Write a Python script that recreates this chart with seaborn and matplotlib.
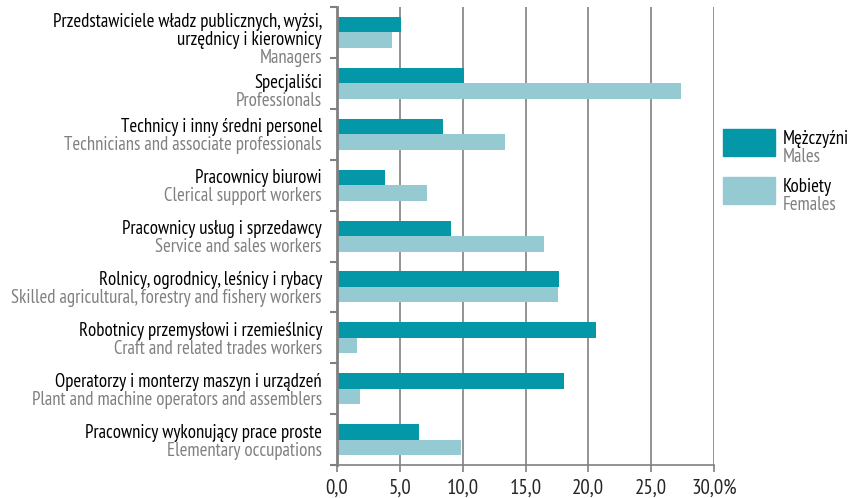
# Employment structure by occupation and sex

import pandas as pd
import seaborn as sns
import matplotlib.pyplot as plt
from matplotlib.patches import Rectangle
from matplotlib.ticker import FixedLocator, FuncFormatter
import matplotlib.font_manager as fm

names = {f.name for f in fm.fontManager.ttflist}
font = 'PT Sans Narrow' if 'PT Sans Narrow' in names else 'DejaVu Sans'

# Data
labels_pl = ['Przedstawiciele władz publicznych, wyżsi,\nurzędnicy i kierownicy',
             'Specjaliści',
             'Technicy i inny średni personel',
             'Pracownicy biurowi',
             'Pracownicy usług i sprzedawcy',
             'Rolnicy, ogrodnicy, leśnicy i rybacy',
             'Robotnicy przemysłowi i rzemieślnicy',
             'Operatorzy i monterzy maszyn i urządzeń',
             'Pracownicy wykonujący prace proste']
labels_en = ['Managers',
             'Professionals',
             'Technicians and associate professionals',
             'Clerical support workers',
             'Service and sales workers',
             'Skilled agricultural, forestry and fishery workers',
             'Craft and related trades workers',
             'Plant and machine operators and assemblers',
             'Elementary occupations']
males = [5.1, 10.1, 8.4, 3.8, 9.1, 17.7, 20.6, 18.1, 6.5]
females = [4.4, 27.4, 13.4, 7.2, 16.5, 17.6, 1.6, 1.8, 9.9]
x_ticks = [0, 5, 10, 15, 20, 25, 30]

c_m = '#0497a7'
c_f = '#96cad3'
gray = '#808080'

df = pd.DataFrame({
    'cat': labels_en * 2,
    'value': males + females,
    'sex': ['Males'] * 9 + ['Females'] * 9,
})

sns.set_style('white')
plt.rcParams['font.family'] = [font, 'DejaVu Sans']

fig = plt.figure(figsize=(8.54, 4.98), dpi=100)
ax = fig.add_axes([0.3946, 0.066, 0.4415, 0.92])

sns.barplot(data=df, y='cat', x='value', hue='sex', orient='h',
            palette={'Males': c_m, 'Females': c_f}, width=0.61,
            saturation=1, linewidth=0, legend=False, ax=ax)

ax.set_xlim(0, 30)
ax.set_ylim(8.5, -0.5)
ax.xaxis.set_major_locator(FixedLocator(x_ticks))
ax.xaxis.set_major_formatter(FuncFormatter(
    lambda v, p: f'{v:.1f}'.replace('.', ',') + ('%' if v == 30 else '')))
ax.grid(axis='x', color=gray, lw=1.2)
ax.set_axisbelow(True)
ax.set_xlabel('')
ax.set_ylabel('')
ax.set_yticks([])
ax.set_yticks([i - 0.5 for i in range(10)], minor=True)
ax.tick_params(axis='y', which='minor', left=True, length=5, width=1.5, color=gray)
ax.tick_params(axis='x', bottom=True, length=5, width=1.2, color=gray,
               labelsize=15, pad=5)
for s in ['top', 'right']:
    ax.spines[s].set_visible(False)
ax.spines['left'].set_color(gray)
ax.spines['left'].set_linewidth(2)
ax.spines['bottom'].set_color(gray)
ax.spines['bottom'].set_linewidth(1.2)

# two-colour category labels (first two rows sit a little lower)
tr = ax.get_yaxis_transform()
shift = [0.32, 0.18] + [0.04] * 7
for i, (pl, en) in enumerate(zip(labels_pl, labels_en)):
    ax.text(-0.04, i + shift[i], pl, transform=tr, ha='right', va='bottom',
            fontsize=13.5, color='black', linespacing=1.0)
    ax.text(-0.04, i + shift[i], en, transform=tr, ha='right', va='top',
            fontsize=13.5, color=gray)

# legend
for y0, c, pl, en in [(0.686, c_m, 'Mężczyźni', 'Males'),
                      (0.590, c_f, 'Kobiety', 'Females')]:
    fig.patches.append(Rectangle((0.847, y0), 0.061, 0.054, color=c,
                                 transform=fig.transFigure))
    fig.text(0.917, y0 + 0.052, pl, fontsize=13.5, color='black', va='top')
    fig.text(0.917, y0 + 0.016, en, fontsize=13.5, color=gray, va='top')

plt.savefig('out.png', dpi=100)
